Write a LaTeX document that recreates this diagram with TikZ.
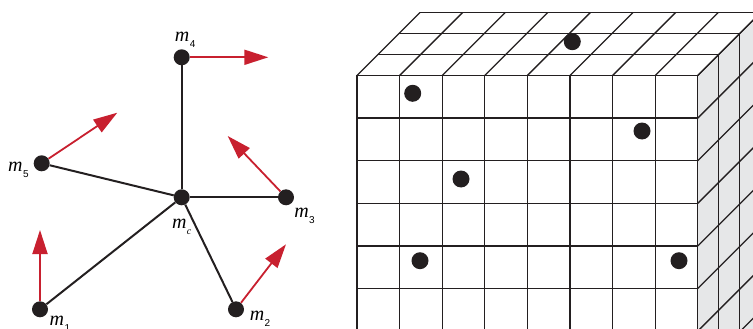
\documentclass[tikz,border=0pt]{standalone}
\usepackage{fontspec}
\setmainfont{Liberation Serif}
\setsansfont{Liberation Sans}
\usetikzlibrary{
  positioning,
  arrows.meta,
  calc
}
\definecolor{ink}{HTML}{231F20}
\definecolor{velocity}{HTML}{C8202F}
\definecolor{sideface}{HTML}{E6E7E8}
\newcommand{\mlab}[1]{\textit{m}\kern0.5pt\raisebox{-6pt}{\fontsize{10}{12}\selectfont\sffamily #1}}

\begin{document}
\begin{tikzpicture}[
  x=1pt, y=-1pt,
  mass/.style={circle, fill=ink, inner sep=0pt, minimum size=16pt},
  probe/.style={circle, fill=ink, inner sep=0pt, minimum size=17pt},
  bond/.style={line width=2pt, ink},
  vel/.style={-{Triangle[length=24pt, width=15pt]}, line width=1.8pt, velocity},
  lab/.style={inner sep=0pt, font=\fontsize{20}{22}\selectfont},
  gridline/.style={line width=1.3pt, ink}
]
  \useasboundingbox (0,0) rectangle (753,329);
  \clip (0,0) rectangle (753,329);

  % Side face of the block
  \fill[sideface] (697.8,75.5) -- (760.8,12.5) -- (760.8,400) -- (697.8,400) -- cycle;
  \foreach \k in {0,...,3}
    \draw[gridline] (697.8+21*\k, 75.5-21*\k) -- (697.8+21*\k, 400);
  \foreach \j in {0,...,7}
    \draw[gridline] (697.8, 75.5+42.6*\j) -- ++(63,-63);

  % Top face
  \foreach \k in {1,2,3}
    \draw[gridline] (357+21*\k, 75.5-21*\k) -- (697.8+21*\k, 75.5-21*\k);
  \foreach \i in {0,...,8}
    \draw[gridline] (357+42.6*\i, 75.5) -- ++(63,-63);

  % Front face
  \foreach \i in {0,...,8}
    \draw[gridline] (357+42.6*\i, 75.5) -- (357+42.6*\i, 400);
  \foreach \j in {0,...,7}
    \draw[gridline] (357, 75.5+42.6*\j) -- (697.8, 75.5+42.6*\j);

  % Particles in the block
  \node[probe] (p1) at (572.3, 41.7) {};
  \node[probe] (p2) at (412.7, 93.3) {};
  \node[probe] (p3) at (642, 131) {};
  \node[probe] (p4) at (461, 179) {};
  \node[probe] (p5) at (420, 260.7) {};
  \node[probe] (p6) at (679, 260.7) {};

  % Masses
  \node[mass] (mc) at (181.7, 197.3) {};
  \node[mass] (m1) at (40, 309.3) {};
  \node[mass] (m2) at (236, 309.3) {};
  \node[mass] (m3) at (286, 197.3) {};
  \node[mass] (m4) at (181.7, 57.3) {};
  \node[mass] (m5) at (41.7, 163.3) {};

  % Bonds to the centre
  \foreach \m in {m1,m2,m3,m4,m5}
    \draw[bond] (mc) -- (\m);

  % Velocities
  \coordinate (v1) at (40, 230);
  \coordinate (v2) at (286, 244.3);
  \coordinate (v3) at (227.7, 136);
  \coordinate (v4) at (268.3, 57.3);
  \coordinate (v5) at (117.3, 112.7);
  \foreach \m/\v in {m1/v1,m2/v2,m3/v3,m4/v4,m5/v5}
    \draw[vel] (\m) -- (\v);

  % Labels
  \node[lab] (lc) at ($(mc)+(0,30)$) {\mlab{\rmfamily\itshape c}};
  \node[lab] (l1) at ($(m1)+(20,14)$) {\mlab{1}};
  \node[lab] (l2) at ($(m2)+(24,9.5)$) {\mlab{2}};
  \node[lab] (l3) at ($(m3)+(18.5,18.5)$) {\mlab{3}};
  \node[lab] (l4) at ($(m4)+(3.5,-17.5)$) {\mlab{4}};
  \node[lab] (l5) at ($(m5)+(-23.2,6.3)$) {\mlab{5}};
\end{tikzpicture}
\end{document}
